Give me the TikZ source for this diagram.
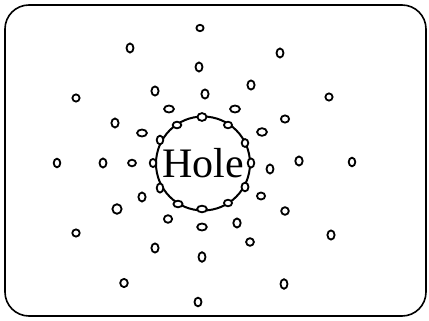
\documentclass[tikz,border=0pt]{standalone}
\usepackage{fontspec}
\setmainfont{Liberation Serif}

\begin{document}
\begin{tikzpicture}[
    x=1pt, y=-1pt,
    frame/.style={line width=1.6pt, rounded corners=24pt},
    hole/.style={circle, draw, line width=2pt, minimum size=94pt, inner sep=0pt},
    atom/.style={draw, line width=1.8pt, fill=white}
]
\useasboundingbox (0,0) rectangle (429,321);

% --- Frame ---
\draw[frame] (5,5) rectangle (426,316);

% --- Hole ---
\node[hole, font=\fontsize{42}{42}\selectfont] (hole) at (203,163.5) {Hole};

% --- Atoms around the hole (x/y/rx/ry) ---
\foreach \x/\y/\rx/\ry in {
    200/28/3.6/3.2, 130/48/3.5/4.5, 280/53/3.5/4.5, 199/67/3.5/4.5,
    76/98/3.6/3.6, 329/97/3.6/3.6, 155/91/3.6/4.6, 205/94/3.6/4.6,
    251/85/3.6/4.6, 169/109/4.9/3.5, 235/109/4.9/3.5, 115/123/3.6/4.5,
    285/119/4.1/3.6, 142/133/4.9/3.5, 262/132/4.9/3.8, 57/163/3.3/4.3,
    103/163/3.5/4.5, 132/163/3.9/3.3, 270/169/3.5/4.5, 299/161/3.7/4.5,
    352/162/3.3/4.3, 142/197/3.6/4.5, 117/209/4.6/4.8, 261/196/4.1/3.5,
    285/211/3.8/3.8, 168/219/4.1/3.8, 202/227/4.8/3.5, 237/223/3.7/4.5,
    76/233/3.7/3.6, 331/235/3.6/4.6, 250/242/3.9/3.8, 155/248/3.6/4.6,
    202/257/3.5/4.8, 124/283/3.8/4.1, 284/284/3.5/4.8, 198/302/3.5/4.3}
    \draw[atom] (\x,\y) ellipse [x radius=\rx, y radius=\ry];

% --- Atoms on the rim ---
\foreach \x/\y/\rx/\ry in {
    202/117/4.5/3.9, 177/125/4.3/3.3, 228/125/4.1/3.3, 160/140/3.3/4.3,
    245/143/3.3/3.9, 153/163/3.3/4.1, 251/163/3.3/4.6, 160/188/3.3/4.6,
    245/187/3.5/4.3, 178/204/4.6/3.3, 228/203/4.1/3.3, 202/209/4.9/3.3}
    \draw[atom] (\x,\y) ellipse [x radius=\rx, y radius=\ry];

\end{tikzpicture}
\end{document}
